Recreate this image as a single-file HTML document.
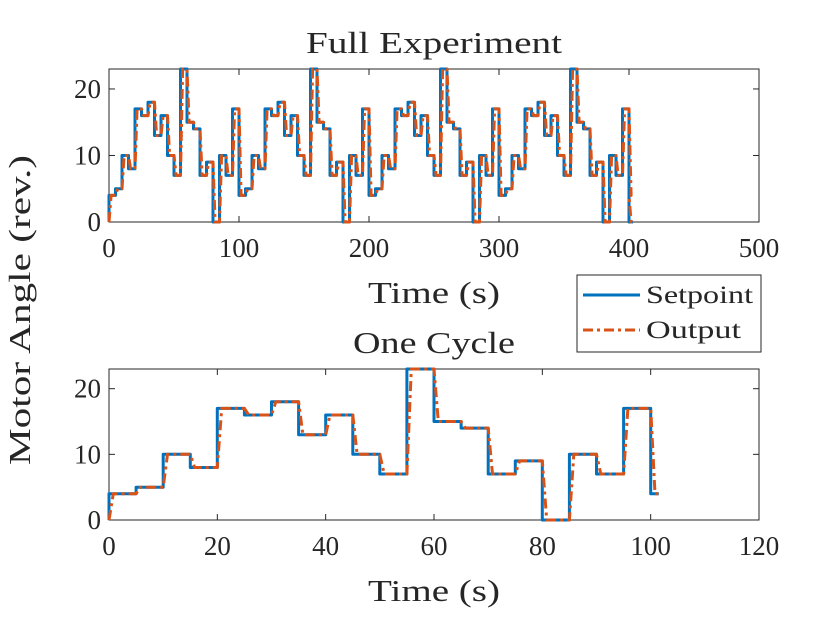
<!DOCTYPE html>
<html><head><meta charset="utf-8"><style>
body{margin:0;background:#fff;}
svg text{font-family:"Liberation Serif",serif;fill:#262626;}
</style></head><body>
<svg width="840" height="630" viewBox="0 0 840 630">
<g id="top"></g>
<g id="bot"></g>
<text x="30" y="310" font-size="31" text-anchor="middle" textLength="310" lengthAdjust="spacingAndGlyphs" transform="rotate(-90 30 310)">Motor Angle (rev.)</text>
<g>
<rect x="577" y="275" width="184" height="77" fill="#fff" stroke="#262626" stroke-width="1"/>
<line x1="583" y1="295" x2="640" y2="295" stroke="#0072BD" stroke-width="3"/>
<text x="646" y="303" font-size="25" textLength="107" lengthAdjust="spacingAndGlyphs">Setpoint</text>
<line x1="583" y1="330" x2="640" y2="330" stroke="#D95319" stroke-width="3" stroke-dasharray="10 4 3 4"/>
<text x="646" y="338" font-size="25" textLength="95" lengthAdjust="spacingAndGlyphs">Output</text>
</g>
</svg>
<script>
const cycleTimes=[0,5,10,15,20,25,30,35,40,45,50,55,60,65,70,75,80,85,90,95,100];
const cycleValues=[4,5,10,8,17,16,18,13,16,10,7,23,15,14,7,9,0,10,7,17,4];
const cycleEnd=101.5;
const fullCycles=[0,100,200,300];
const fullEnd=403;
const outputLag=0.8;
const topXTicks=[0,100,200,300,400,500];
const botXTicks=[0,20,40,60,80,100,120];
const yTicks=[0,10,20];
const NS='http://www.w3.org/2000/svg';
function mk(tag,attrs,parent){const e=document.createElementNS(NS,tag);for(const k in attrs)e.setAttribute(k,attrs[k]);parent.appendChild(e);return e;}
function stepPts(times,vals,end,lag){const p=[[0,0]];for(let i=0;i<times.length;i++){const prev=i?vals[i-1]:0;p.push([times[i],prev]);p.push([times[i]+lag,vals[i]]);}p.push([end,vals[vals.length-1]]);return p;}
function drawAxes(g,box,xmax,xt,title,titleLen,name){
 const sx=v=>box.x+v/xmax*box.w, sy=v=>box.y+box.h-v/23*box.h;
 mk('rect',{x:box.x,y:box.y,width:box.w,height:box.h,fill:'#fff',stroke:'#262626','stroke-width':1},g);
 xt.forEach(t=>{const x=sx(t);mk('line',{x1:x,y1:box.y+box.h,x2:x,y2:box.y+box.h-6,stroke:'#262626'},g);mk('line',{x1:x,y1:box.y,x2:x,y2:box.y+6,stroke:'#262626'},g);
  const tx=mk('text',{x:x,y:box.y+box.h+35,'font-size':27,'text-anchor':'middle'},g);tx.textContent=t;
  
  });
 yTicks.forEach(t=>{const y=sy(t);mk('line',{x1:box.x,y1:y,x2:box.x+6,y2:y,stroke:'#262626'},g);mk('line',{x1:box.x+box.w,y1:y,x2:box.x+box.w-6,y2:y,stroke:'#262626'},g);
  const tx=mk('text',{x:box.x-8,y:y+9,'font-size':27,'text-anchor':'end'},g);tx.textContent=t;
  
  });
 const tt=mk('text',{x:box.x+box.w/2,y:box.y-16,'font-size':31,'text-anchor':'middle',textLength:titleLen,lengthAdjust:'spacingAndGlyphs'},g);tt.textContent=title;
 
 
 const xl=mk('text',{x:box.x+box.w/2,y:box.y+box.h+81,'font-size':31,'text-anchor':'middle',textLength:132,lengthAdjust:'spacingAndGlyphs'},g);xl.textContent='Time (s)';
 
 
 return {sx,sy};
}
function drawSeries(g,s,pts,color,dash,name){
 const d=pts.map((p,i)=>(i?'L':'M')+s.sx(p[0]).toFixed(1)+','+s.sy(p[1]).toFixed(1)).join('');
 const a={d:d,fill:'none',stroke:color,'stroke-width':3,'stroke-linejoin':'round'};if(dash)a['stroke-dasharray']=dash;
 const e=mk('path',a,g);
 
 
}
let ft=[],fv=[];
fullCycles.forEach(c=>{cycleTimes.forEach((t,i)=>{if(c>0&&i===0)return;ft.push(c+t);fv.push(cycleValues[i]);});});
ft.push(400);fv.push(0);
const topG=document.getElementById('top');
const s1=drawAxes(topG,{x:109,y:69,w:650,h:153},500,topXTicks,'Full Experiment',256,'full-experiment');
drawSeries(topG,s1,stepPts(ft,fv,fullEnd,0),'#0072BD',null,'full-setpoint-line');
drawSeries(topG,s1,stepPts(ft,fv,fullEnd,outputLag*2),'#D95319','10 4 3 4','full-output-line');
const botG=document.getElementById('bot');
const s2=drawAxes(botG,{x:109,y:369,w:650,h:151},120,botXTicks,'One Cycle',162,'one-cycle');
drawSeries(botG,s2,stepPts(cycleTimes,cycleValues,cycleEnd,0),'#0072BD',null,'cycle-setpoint-line');
drawSeries(botG,s2,stepPts(cycleTimes,cycleValues,cycleEnd,outputLag),'#D95319','10 4 3 4','cycle-output-line');
</script>
</body></html>
